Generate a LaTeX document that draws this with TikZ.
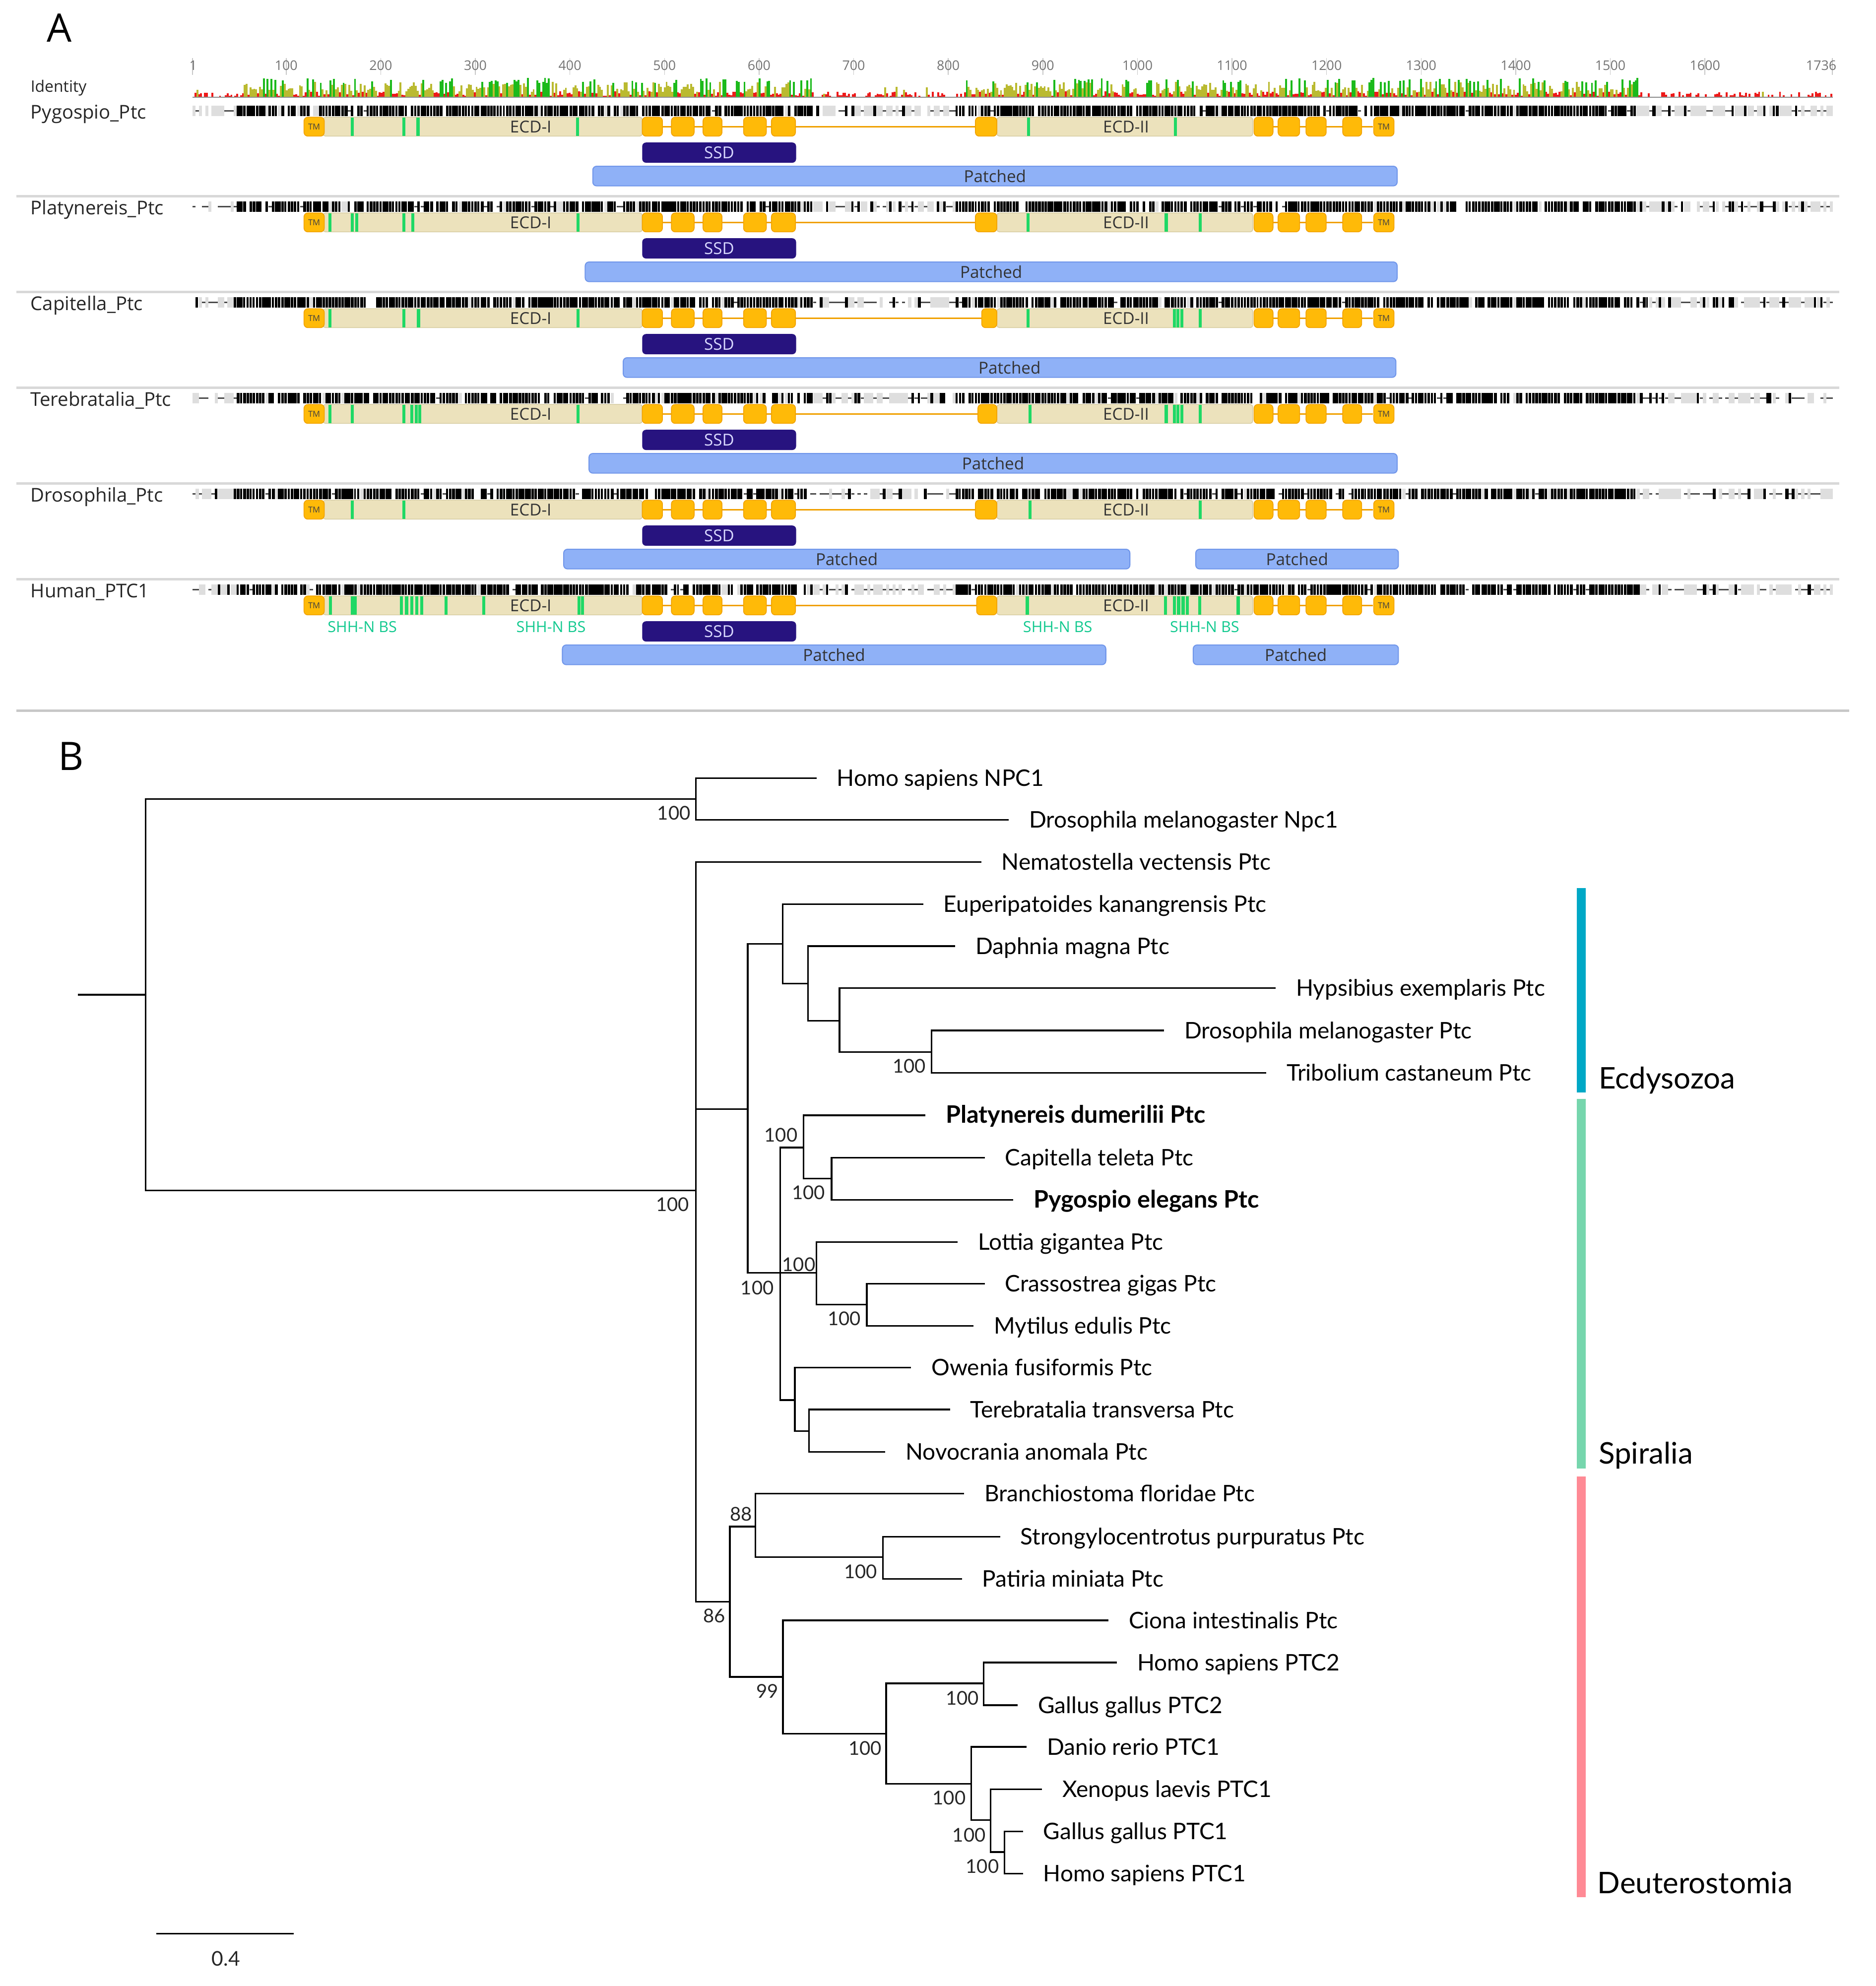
\documentclass[tikz,border=0pt]{standalone}
\usepackage{fontspec}
\setmainfont{Lato}
\newfontfamily\gfont{Open Sans}
\usetikzlibrary{calc}

\definecolor{tmorange}{HTML}{FFBA08}
\definecolor{tmedge}{HTML}{F0A000}
\definecolor{ecdfill}{HTML}{ECE2BC}
\definecolor{ecdedge}{HTML}{D6CCA2}
\definecolor{bsgreen}{HTML}{1FD865}
\definecolor{ssdblue}{HTML}{27137F}
\definecolor{ptcblue}{HTML}{8FB1F7}
\definecolor{ptcedge}{HTML}{7096EA}
\definecolor{shhgreen}{HTML}{12C98F}
\definecolor{idgreen}{HTML}{1CBA1C}
\definecolor{idolive}{HTML}{BABA30}
\definecolor{idred}{HTML}{EE1A1A}
\definecolor{ecdyso}{HTML}{00A8C6}
\definecolor{spiral}{HTML}{76D6AD}
\definecolor{deutero}{HTML}{FF8A95}
\definecolor{sepgray}{HTML}{D8D8D8}

\tikzset{
  branch/.style={line width=1.3pt, black, line cap=rect},
  leaf/.style={anchor=base west, inner sep=0pt, font=\fontsize{18}{21}\selectfont},
  boldleaf/.style={font=\fontsize{19}{22}\selectfont\bfseries},
  bsl/.style={inner sep=0pt, font=\fontsize{15}{18}\selectfont, text=black!85},
  clade/.style={anchor=base west, inner sep=0pt, font=\fontsize{23.5}{28}\selectfont},
  rowname/.style={anchor=base west, inner sep=0pt, font=\gfont\fontsize{15}{18}\selectfont, text=black!85},
  domlabel/.style={inner sep=0pt, font=\gfont\fontsize{13}{15}\selectfont, text=black!80},
  tmbox/.style={draw=tmedge, fill=tmorange, rounded corners=3pt, minimum width=16pt, minimum height=15pt, inner sep=0pt, font=\gfont\fontsize{6.5}{7}\selectfont, text=black!75, line width=0.6pt},
  ssdbox/.style={fill=ssdblue, rounded corners=3pt, minimum width=121.5pt, minimum height=16pt, inner sep=0pt, text=white!85!blue, font=\gfont\fontsize{13}{15}\selectfont},
  patbox/.style={fill=ptcblue, draw=ptcedge, line width=0.8pt, rounded corners=3pt, minimum height=15.5pt, inner sep=0pt, font=\gfont\fontsize{13}{15}\selectfont, text=black!80},
  shh/.style={inner sep=0pt, font=\gfont\fontsize{12}{14}\selectfont, text=shhgreen},
  rnum/.style={inner sep=0pt, font=\gfont\fontsize{10.5}{12}\selectfont, text=black!55},
  orbox/.style={fill=tmorange, draw=tmedge, line width=0.6pt, rounded corners=3pt},
  ecdbox/.style={fill=ecdfill, draw=ecdedge, line width=0.6pt, rounded corners=2pt},
  panel/.style={inner sep=0pt, font=\gfont\fontsize{31}{34}\selectfont},
}

% sequence track of one row: #1 = y centre, #2 = seed
\newcommand\seqtrack[2]{%
  \pgfmathsetseed{#2}%
  \foreach \k in {0,...,517}{%
    \pgfmathsetmacro\xx{152+2.5*\k}%
    \pgfmathsetmacro\rr{rnd}%
    \pgfmathsetmacro\ww{1.5+1.1*rnd}%
    \pgfmathtruncatemacro\cons{((\xx>186)&&(\xx<642))||((\xx>752)&&(\xx<1292))}%
    \pgfmathtruncatemacro\typ{\cons==1 ? (\rr<0.86 ? 1 : (\rr<0.92 ? 0 : (\rr<0.95 ? 2 : 3))) : (\rr<0.14 ? 1 : (\rr<0.58 ? 3 : (\rr<0.9 ? 2 : 0)))}%
    \ifcase\typ\relax
    \or \fill[black] (\xx,#1-4) rectangle ++(\ww,8);
    \or \fill[black!70] (\xx,#1-0.6) rectangle ++(2.5,1.2);
    \or \fill[black!13] (\xx,#1-4) rectangle ++(2.5,8);
    \fi
  }%
}

% one alignment row
% #1 name, #2 y, #3 seed, #4 ECD-I greens, #5 ECD-II greens, #6 ECD-II box start, #7 patched list
\newcommand\ptcrow[7]{%
  \node[rowname] (name#3) at (24,#2+6.5) {#1};
  \seqtrack{#2}{#3}
  \pgfmathsetmacro\dy{#2+12.5}
  \draw[tmedge, line width=1.1pt] (523,\dy) -- (#6,\dy);
  \draw[tmedge, line width=1.1pt] (1005,\dy) -- (1084,\dy);
  \filldraw[ecdbox] (255,\dy-7.5) rectangle (507,\dy+7.5);
  \foreach \g in {#4} \fill[bsgreen] (\g-1.2,\dy-7.2) rectangle (\g+1.2,\dy+7.2);
  \node[domlabel] (ecdI#3) at (419,\dy) {ECD-I};
  \filldraw[ecdbox] (787,\dy-7.5) rectangle (989,\dy+7.5);
  \foreach \g in {#5} \fill[bsgreen] (\g-1.2,\dy-7.2) rectangle (\g+1.2,\dy+7.2);
  \node[domlabel] (ecdII#3) at (889,\dy) {ECD-II};
  \foreach \a/\b in {507/523,530/548,555/570,587/605,609/628,#6/787,990/1005,1009/1026,1031/1047,1060/1075}
    \filldraw[orbox] (\a,\dy-7.5) rectangle (\b,\dy+7.5);
  \node[tmbox] (tmL#3) at (248,\dy) {TM};
  \node[tmbox] (tmR#3) at (1092.5,\dy) {TM};
  \node[ssdbox] (ssd#3) at (567.75,#2+33) {SSD};
  \foreach \a/\b in {#7}{%
    \pgfmathsetmacro\pw{\b-\a}%
    \pgfmathsetmacro\pc{(\a+\b)/2}%
    \node[patbox, minimum width=\pw pt] (pat#3-\a) at (\pc,#2+51.5) {Patched};
  }
}

\newcommand\tleaf[4][]{%
  \coordinate (#2) at (#3);
  \node[leaf,#1] (t#2) at ([xshift=16.5pt,yshift=-6.3pt]#2) {#4};
}

\begin{document}
\begin{tikzpicture}[x=1pt,y=-1pt]
\useasboundingbox (0,0) rectangle (1481,1568);
\fill[white] (0,0) rectangle (1481,1568);

% ================= PANEL A =================
\node[panel] (pA) at (46.7,22) {A};

% ruler
\foreach \n in {100,200,...,1600}{%
  \pgfmathsetmacro\xp{152+(\n-1)*0.74669}%
  \draw[black!22, line width=0.6pt] (\xp,46) -- (\xp,59);
  \node[rnum] (r\n) at (\xp,51.5) {\n};
}
\draw[black!22, line width=0.6pt] (152,46) -- (152,59);
\node[rnum] (r1) at (152.5,51.5) {1};
\draw[black!22, line width=0.6pt] (1446.5,46) -- (1446.5,59);
\node[rnum, anchor=east] (r1736) at (1450,51.5) {1736};

% identity graph
\node[rowname, font=\gfont\fontsize{12.5}{15}\selectfont] (ident) at (24,72.5) {Identity};
\pgfmathsetseed{11}
\foreach \k in {0,...,862}{%
  \pgfmathsetmacro\xx{152+1.5*\k}%
  \pgfmathsetmacro\rr{rnd}%
  \pgfmathsetmacro\hh{rnd}%
  \pgfmathtruncatemacro\cons{((\xx>190)&&(\xx<640))||((\xx>760)&&(\xx<1295))}%
  \pgfmathtruncatemacro\typ{\cons==1 ? (\rr<0.2 ? 1 : (\rr<0.66 ? 2 : 3)) : (\rr<0.05 ? 4 : (\rr<0.5 ? 3 : 0))}%
  \ifcase\typ\relax
  \or \fill[idgreen] (\xx,76.5) rectangle ++(1.5,-11-4*\hh);
  \or \fill[idolive] (\xx,76.5) rectangle ++(1.5,-4-8*\hh);
  \or \fill[idred] (\xx,76.5) rectangle ++(1.5,-0.8-3.5*\hh);
  \or \fill[idolive] (\xx,76.5) rectangle ++(1.5,-2-6*\hh);
  \fi
}
\draw[black!45, line width=0.8pt] (152,76.8) -- (1447,76.8);

% rows
\ptcrow{Pygospio\_Ptc}{87.5}{101}{278,319,330,456}{812,928}{770}{468/1103}
\ptcrow{Platynereis\_Ptc}{163.1}{202}{260.5,278,281.5,319,326,456.4}{811.6,920.7,947.4}{770}{462/1103}
\ptcrow{Capitella\_Ptc}{238.7}{303}{260.5,319,330.4,456.4}{811.6,927,930,933,947.4}{775}{492/1102}
\ptcrow{Terebratalia\_Ptc}{314.3}{404}{260.5,278,319,325,328.5,331.5,456.4}{813,920.7,927,930,933,947.4}{772}{465/1103}
\ptcrow{Drosophila\_Ptc}{389.9}{505}{278,319}{813,947.4}{770}{445/892,944/1104}
\ptcrow{Human\_PTC1}{465.5}{606}{261,278,280.5,317,321,325,329,333,352,382,457,460}{811,920,927,930.5,934,937.5,947,977.5}{771}{444/873,942/1104}

\node[shh] (shh1) at (286,495) {SHH-N BS};
\node[shh] (shh2) at (435,495) {SHH-N BS};
\node[shh] (shh3) at (835,495) {SHH-N BS};
\node[shh] (shh4) at (951,495) {SHH-N BS};

% separators
\foreach \s in {155,230.6,306.2,381.8,457.4}
  \draw[sepgray, line width=1.8pt] (13,\s) -- (1452,\s);
\draw[black!22, line width=1.8pt] (13,561) -- (1460,561);

% ================= PANEL B =================
\node[panel] (pB) at (56,597) {B};

\coordinate (R0) at (62,785.4);
\coordinate (R) at (115,785.4);
\coordinate (NPC) at (549.4,630.8);
\coordinate (PTC) at (549.4,940);
\coordinate (Proto) at (590.3,875.6);
\coordinate (Ecd) at (618,745.2);
\coordinate (E1) at (638,776.6);
\coordinate (E2) at (662.7,806);
\coordinate (E3) at (735.4,830.6);
\coordinate (Spir) at (616,1004.9);
\coordinate (Ann) at (634.3,906);
\coordinate (Ann2) at (656.5,930.5);
\coordinate (Mol) at (644.6,1004.9);
\coordinate (Mol2) at (684.3,1029.9);
\coordinate (Bra) at (627.5,1105.4);
\coordinate (Bra2) at (638.6,1129.8);
\coordinate (Deut) at (576.2,1264.5);
\coordinate (Amb) at (596.4,1205.3);
\coordinate (Echi) at (696.9,1229.4);
\coordinate (Chor) at (618.1,1323.9);
\coordinate (Vert) at (699.6,1368.8);
\coordinate (P2) at (776.6,1329);
\coordinate (P1) at (766.8,1408.4);
\coordinate (T1) at (781.9,1437);
\coordinate (T2) at (793,1462.2);

\tleaf{HsNPC1}{644,614.3}{Homo sapiens NPC1}
\tleaf{DmNpc1}{795.8,647.3}{Drosophila melanogaster Npc1}
\tleaf{Nv}{774,680.6}{Nematostella vectensis Ptc}
\tleaf{Ek}{728.3,714}{Euperipatoides kanangrensis Ptc}
\tleaf{Dpm}{753.5,747}{Daphnia magna Ptc}
\tleaf{Hex}{1006.5,780}{Hypsibius exemplaris Ptc}
\tleaf{Dm}{918.4,813.6}{Drosophila melanogaster Ptc}
\tleaf{Tc}{999,847}{Tribolium castaneum Ptc}
\tleaf[boldleaf]{Pd}{730,880.5}{Platynereis dumerilii Ptc}
\tleaf{Ct}{776.7,914}{Capitella teleta Ptc}
\tleaf[boldleaf]{Pe}{799.3,947.3}{Pygospio elegans Ptc}
\tleaf{Lg}{755.5,980.5}{Lottia gigantea Ptc}
\tleaf{Cg}{776.7,1013.5}{Crassostrea gigas Ptc}
\tleaf{Me}{768,1046.9}{Mytilus edulis Ptc}
\tleaf{Of}{718.6,1079.8}{Owenia fusiformis Ptc}
\tleaf{Tt}{749.3,1112.8}{Terebratalia transversa Ptc}
\tleaf{Na}{698.3,1146.2}{Novocrania anomala Ptc}
\tleaf{Bf}{760.5,1179.2}{Branchiostoma floridae Ptc}
\tleaf{Sp}{788.9,1213.2}{Strongylocentrotus purpuratus Ptc}
\tleaf{Pm}{758.8,1246.5}{Patiria miniata Ptc}
\tleaf{Ci}{874.5,1279.3}{Ciona intestinalis Ptc}
\tleaf{HsP2}{881.2,1312.6}{Homo sapiens PTC2}
\tleaf{GgP2}{802.8,1346.3}{Gallus gallus PTC2}
\tleaf{Dr}{809.9,1379.2}{Danio rerio PTC1}
\tleaf{Xl}{822,1412.7}{Xenopus laevis PTC1}
\tleaf{GgP1}{807,1446}{Gallus gallus PTC1}
\tleaf{HsP1}{807,1479.3}{Homo sapiens PTC1}

\draw[branch] (R0) -- (R);
\foreach \p/\c in {R/NPC,R/PTC,NPC/HsNPC1,NPC/DmNpc1,
  PTC/Nv,PTC/Proto,PTC/Deut,
  Proto/Ecd,Proto/Spir,Ecd/Ek,Ecd/E1,E1/Dpm,E1/E2,E2/Hex,E2/E3,E3/Dm,E3/Tc,
  Spir/Ann,Spir/Mol,Spir/Bra,Ann/Pd,Ann/Ann2,Ann2/Ct,Ann2/Pe,
  Mol/Lg,Mol/Mol2,Mol2/Cg,Mol2/Me,Bra/Of,Bra/Bra2,Bra2/Tt,Bra2/Na,
  Deut/Amb,Deut/Chor,Amb/Bf,Amb/Echi,Echi/Sp,Echi/Pm,
  Chor/Ci,Chor/Vert,Vert/P2,Vert/P1,P2/HsP2,P2/GgP2,
  P1/Dr,P1/T1,T1/Xl,T1/T2,T2/GgP1,T2/HsP1}
  \draw[branch] (\p) |- (\c);

% bootstrap values
\node[bsl] (b1) at (532,641.8) {100};
\node[bsl] (b2) at (531,951) {100};
\node[bsl] (b3) at (717.8,841.6) {100};
\node[bsl] (b4) at (616.5,896) {100};
\node[bsl] (b5) at (638.4,941.5) {100};
\node[bsl] (b6) at (630.6,998.5) {100};
\node[bsl] (b7) at (666.5,1040.9) {100};
\node[bsl] (b8) at (597.8,1016.7) {100};
\node[bsl] (b9) at (584.9,1195.2) {88};
\node[bsl] (b10) at (679.4,1240.8) {100};
\node[bsl] (b11) at (564,1275.5) {86};
\node[bsl] (b12) at (605.9,1335.1) {99};
\node[bsl] (b13) at (682.9,1380.1) {100};
\node[bsl] (b14) at (759.8,1340.7) {100};
\node[bsl] (b15) at (749.3,1419.4) {100};
\node[bsl] (b16) at (765.1,1448.7) {100};
\node[bsl] (b17) at (775.6,1473.4) {100};

% clade bars
\fill[ecdyso] (1245,701.3) rectangle (1252,862.4);
\fill[spiral] (1245,867.7) rectangle (1252,1159.5);
\fill[deutero] (1245,1165.6) rectangle (1252,1497.9);
\node[clade] (cE) at (1262,859.5) {Ecdysozoa};
\node[clade] (cS) at (1262,1155.8) {Spiralia};
\node[clade] (cD) at (1261,1495) {Deuterostomia};

% scale bar
\coordinate (sb1) at (124,1526.7);
\coordinate (sb2) at (231.4,1526.7);
\draw[branch] (sb1) -- (sb2);
\node[bsl, font=\fontsize{16}{19}\selectfont] (sbl) at (178.3,1546.3) {0.4};
\end{tikzpicture}
\end{document}
